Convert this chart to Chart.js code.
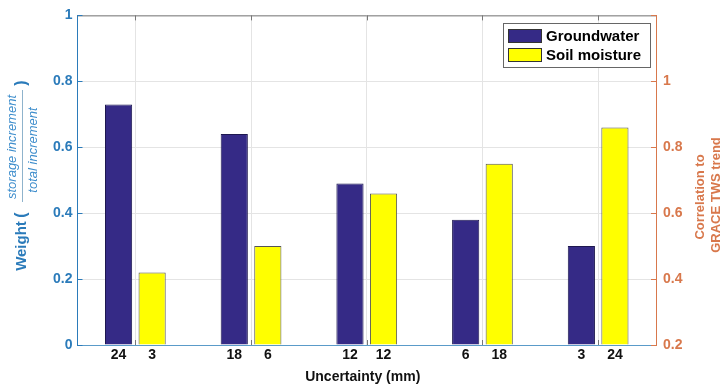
<!DOCTYPE html>
<html>
<head>
<meta charset="utf-8">
<script src="https://cdn.jsdelivr.net/npm/chart.js@4.4.1/dist/chart.umd.min.js"></script>
<style>
  html, body { margin: 0; padding: 0; background: #fff; }
  #wrap { position: relative; width: 726px; height: 390px; }
</style>
</head>
<body>
<div id="wrap"><canvas id="weightChart"></canvas></div>
<script>
// ---- data ----
const groups = ['24 / 3', '18 / 6', '12 / 12', '6 / 18', '3 / 24'];
const gwUncertainty = ['24', '18', '12', '6', '3'];
const smUncertainty = ['3', '6', '12', '18', '24'];
const groundwater = [0.73, 0.64, 0.49, 0.38, 0.30];
const soilMoisture = [0.22, 0.30, 0.46, 0.55, 0.66];
const seriesNames = ['Groundwater', 'Soil moisture'];

const BLUE = '#2b7bba';
const ORANGE = '#d8784c';
const GW_COLOR = '#352a86';
const SM_COLOR = '#ffff00';

Chart.defaults.font.family = '"Liberation Sans", Arial, sans-serif';

// titles, legend, inward tick marks and the paired x labels
const decorations = {
    id: 'decorations',
    afterDraw(chart) {
        const ctx = chart.ctx;
        const area = chart.chartArea;
        const x = chart.scales.x, y = chart.scales.y, y2 = chart.scales.y2;
        ctx.save();

        // top box line
        ctx.strokeStyle = '#7a7a7a';
        ctx.lineWidth = 1;
        ctx.beginPath();
        ctx.moveTo(area.left, area.top + 0.5);
        ctx.lineTo(area.right, area.top + 0.5);
        ctx.stroke();

        // inward ticks on x (top and bottom)
        x.ticks.forEach(function (t, i) {
            const px = Math.round(x.getPixelForTick(i)) + 0.5;
            ctx.strokeStyle = '#777';
            ctx.beginPath();
            ctx.moveTo(px, area.top); ctx.lineTo(px, area.top + 5);
            ctx.moveTo(px, area.bottom); ctx.lineTo(px, area.bottom - 5);
            ctx.stroke();
        });
        y.ticks.forEach(function (t, i) {
            const py = Math.round(y.getPixelForTick(i)) + 0.5;
            ctx.strokeStyle = BLUE;
            ctx.beginPath();
            ctx.moveTo(area.left, py); ctx.lineTo(area.left + 5, py);
            ctx.stroke();
        });
        y2.ticks.forEach(function (t, i) {
            const py = Math.round(y2.getPixelForTick(i)) + 0.5;
            ctx.strokeStyle = ORANGE;
            ctx.beginPath();
            ctx.moveTo(area.right, py); ctx.lineTo(area.right - 5, py);
            ctx.stroke();
        });

        // paired x labels under each bar
        ctx.fillStyle = '#111';
        ctx.font = 'bold 14px "Liberation Sans", Arial';
        ctx.textAlign = 'center';
        ctx.textBaseline = 'middle';
        const gwMeta = chart.getDatasetMeta(0), smMeta = chart.getDatasetMeta(1);
        gwMeta.data.forEach(function (bar, i) { ctx.fillText(gwUncertainty[i], bar.x, area.bottom + 10); });
        smMeta.data.forEach(function (bar, i) { ctx.fillText(smUncertainty[i], bar.x, area.bottom + 10); });

        // x title
        ctx.fillText('Uncertainty (mm)', (area.left + area.right) / 2 - 4, 377);

        // left title: Weight ( storage increment / total increment )
        function rotText(txt, cx, cy, font, color) {
            ctx.save();
            ctx.translate(cx, cy);
            ctx.rotate(-Math.PI / 2);
            ctx.font = font;
            ctx.fillStyle = color;
            ctx.fillText(txt, 0, 0);
            ctx.restore();
        }
        rotText('Weight', 22, 246, 'bold 15px "Liberation Sans", Arial', BLUE);
        rotText('(', 22, 215, 'bold 16px "Liberation Sans", Arial', BLUE);
        rotText('storage increment', 12, 147, 'italic 13px "Liberation Sans", Arial', '#3d8dcc');
        rotText('total increment', 33, 150, 'italic 13px "Liberation Sans", Arial', '#3d8dcc');
        rotText(')', 22, 83, 'bold 16px "Liberation Sans", Arial', BLUE);
        ctx.strokeStyle = '#8fb3cc';
        ctx.beginPath();
        ctx.moveTo(22.5, 90); ctx.lineTo(22.5, 202);
        ctx.stroke();

        // right title
        rotText('Correlation to', 700, 197, 'bold 13px "Liberation Sans", Arial', ORANGE);
        rotText('GRACE TWS trend', 716, 195, 'bold 13px "Liberation Sans", Arial', ORANGE);

        // legend
        const lx = 503, ly = 23, lw = 147, lh = 44;
        ctx.fillStyle = '#fff';
        ctx.fillRect(lx, ly, lw, lh);
        ctx.strokeStyle = '#666';
        ctx.strokeRect(lx + 0.5, ly + 0.5, lw, lh);
        const colors = [GW_COLOR, SM_COLOR];
        seriesNames.forEach(function (name, i) {
            const sy = ly + 6 + i * 19;
            ctx.fillStyle = colors[i];
            ctx.fillRect(lx + 5, sy, 34, 14);
            ctx.strokeStyle = '#333';
            ctx.strokeRect(lx + 5.5, sy + 0.5, 33, 13);
            ctx.fillStyle = '#000';
            ctx.font = 'bold 15px "Liberation Sans", Arial';
            ctx.textAlign = 'left';
            ctx.fillText(name, lx + 43, sy + 7.5);
        });

        ctx.restore();
    }
};

new Chart(document.getElementById('weightChart'), {
    type: 'bar',
    data: {
        labels: groups,
        datasets: [
            { label: seriesNames[0], data: groundwater, backgroundColor: GW_COLOR, borderColor: '#1e1850', borderWidth: 1,
              categoryPercentage: 0.58, barPercentage: 0.81 },
            { label: seriesNames[1], data: soilMoisture, backgroundColor: SM_COLOR, borderColor: '#555', borderWidth: 1,
              categoryPercentage: 0.58, barPercentage: 0.81 }
        ]
    },
    options: {
        responsive: true, maintainAspectRatio: false, animation: false,
        layout: { padding: { top: 15, left: 0, right: 0, bottom: 0 } },
        plugins: { legend: { display: false }, tooltip: { enabled: false } },
        scales: {
            x: {
                grid: { offset: false, color: '#e4e4e4', drawTicks: false },
                border: { color: '#5a9bc9' },
                ticks: { callback: function () { return ''; } },
                afterFit: function (s) { s.height = 45; }
            },
            y: {
                position: 'left', min: 0, max: 1,
                grid: { color: '#e4e4e4', drawTicks: false },
                border: { color: BLUE },
                ticks: { stepSize: 0.2, padding: 5, color: BLUE, font: { size: 14, weight: 'bold' },
                         callback: function (v) { return String(Number(v.toFixed(1))); } },
                afterFit: function (s) { s.width = 77.5; }
            },
            y2: {
                position: 'right', min: 0.2, max: 1.2,
                grid: { display: false, drawTicks: false },
                border: { color: ORANGE },
                ticks: { stepSize: 0.2, padding: 7, color: ORANGE, font: { size: 14, weight: 'bold' },
                         callback: function (v) { return v > 1.05 ? '' : String(Number(v.toFixed(1))); } },
                afterFit: function (s) { s.width = 70; }
            }
        }
    },
    plugins: [decorations]
});
</script>
</body>
</html>
